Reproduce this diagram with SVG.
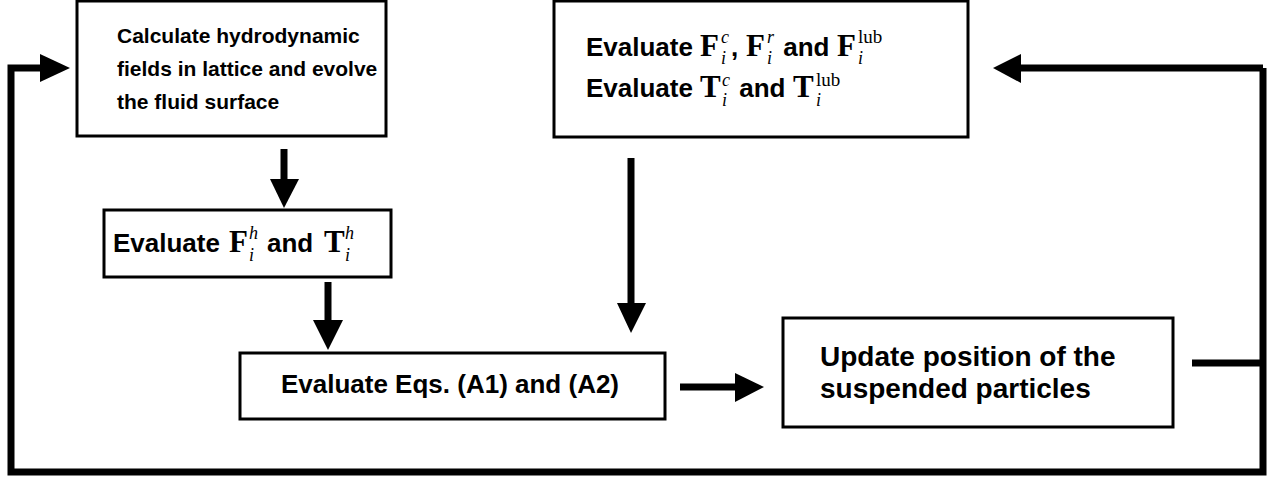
<svg xmlns="http://www.w3.org/2000/svg" width="1279" height="478" viewBox="0 0 1279 478">
<style>
.box{fill:#fff;stroke:#000;stroke-width:3}
.t{font-family:"Liberation Sans",Arial,sans-serif;font-weight:bold;font-size:26px;fill:#000}
.m{font-family:"Liberation Serif","Times New Roman",serif;font-weight:bold;font-size:31px}
.s{font-family:"Liberation Serif","Times New Roman",serif;font-style:italic;font-weight:normal;font-size:18px}
.r{font-family:"Liberation Serif","Times New Roman",serif;font-weight:normal;font-size:19px}
.c1{font-size:21px}
.c5{font-size:28px}
.ln{fill:none;stroke:#000;stroke-width:7}
.hd{fill:#000}
</style>
<rect width="1279" height="478" fill="#fff"/>
<g id="connectors">
  <path class="ln" d="M1192 363 H1263 M1263 68 V472 H11 V68 H42"/>
  <polygon class="hd" points="40,54 70,68 40,82"/>
  <path class="ln" d="M1263 68 H1020"/>
  <polygon class="hd" points="1021,54 993,68 1021,83"/>
  <path class="ln" d="M284 149 V180"/>
  <polygon class="hd" points="270,179 299,179 284,208"/>
  <path class="ln" d="M328 282 V321"/>
  <polygon class="hd" points="313,320 343,320 328,350"/>
  <path class="ln" d="M631 158 V304"/>
  <polygon class="hd" points="617,303 646,303 631,333"/>
  <path class="ln" d="M680 387 H736"/>
  <polygon class="hd" points="735,373 764,387 735,402"/>
</g>
<g id="node-calc">
  <rect class="box" x="77" y="1" width="309" height="135"/>
  <text class="t c1" x="117" y="43">Calculate hydrodynamic</text>
  <text class="t c1" x="117" y="76">fields in lattice and evolve</text>
  <text class="t c1" x="117" y="109">the fluid surface</text>
</g>
<g id="node-forces">
  <rect class="box" x="554" y="1" width="414" height="136"/>
  <text class="t" x="586" y="56">Evaluate <tspan class="m" x="700">F</tspan><tspan class="s" x="721" y="43">c</tspan><tspan class="s" x="721" y="64">i</tspan><tspan x="731" y="56">, </tspan><tspan class="m" x="746">F</tspan><tspan class="s" x="767" y="43">r</tspan><tspan class="s" x="767" y="64">i</tspan><tspan x="776" y="56"> and </tspan><tspan class="m" x="837">F</tspan><tspan class="r" x="858" y="43">lub</tspan><tspan class="s" x="858" y="64">i</tspan></text>
  <text class="t" x="586" y="97">Evaluate <tspan class="m" x="700">T</tspan><tspan class="s" x="722" y="86">c</tspan><tspan class="s" x="722" y="106">i</tspan><tspan x="732" y="97"> and </tspan><tspan class="m" x="793">T</tspan><tspan class="r" x="816" y="86">lub</tspan><tspan class="s" x="816" y="106">i</tspan></text>
</g>
<g id="node-hydro">
  <rect class="box" x="104" y="210" width="287" height="67"/>
  <text class="t" x="113" y="252">Evaluate <tspan class="m" x="229">F</tspan><tspan class="s" x="249" y="239">h</tspan><tspan class="s" x="249" y="261">i</tspan><tspan x="267" y="252">and</tspan><tspan class="m" x="324">T</tspan><tspan class="s" x="345" y="239">h</tspan><tspan class="s" x="345" y="261">i</tspan></text>
</g>
<g id="node-eqs">
  <rect class="box" x="240" y="353" width="425" height="66"/>
  <text class="t" x="450" y="393" text-anchor="middle">Evaluate Eqs. (A1) and (A2)</text>
</g>
<g id="node-update">
  <rect class="box" x="783" y="318" width="390" height="109"/>
  <text class="t c5" x="820" y="366">Update position of the</text>
  <text class="t c5" x="820" y="398">suspended particles</text>
</g>
</svg>
